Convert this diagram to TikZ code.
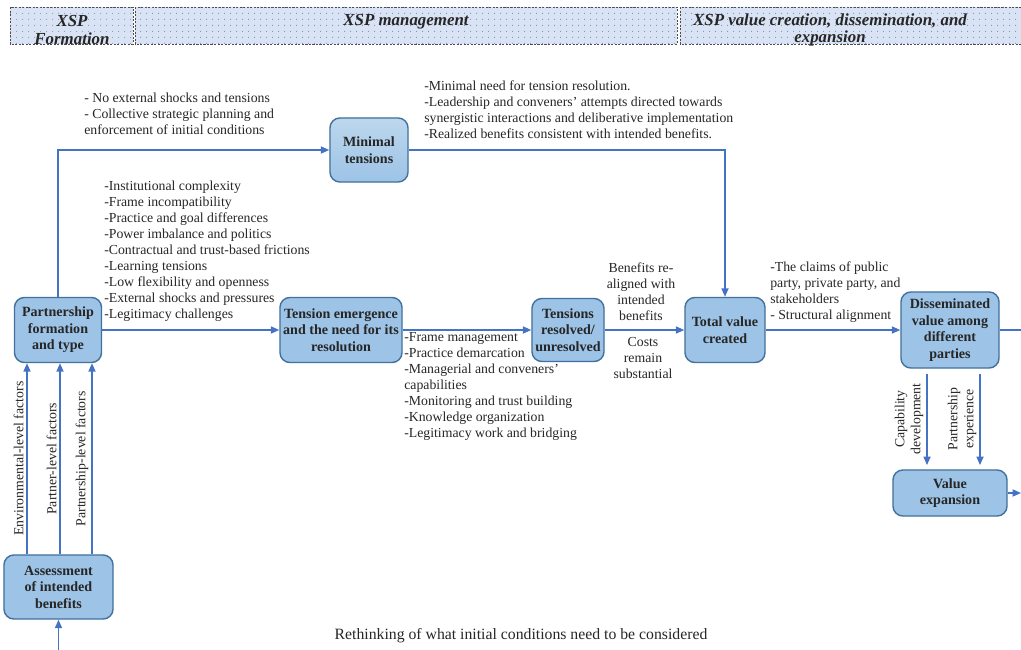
\documentclass[tikz,border=0pt]{standalone}
\usepackage{fontspec}
\setmainfont{Liberation Serif}
\usetikzlibrary{arrows.meta,patterns.meta}
\definecolor{boxfill}{HTML}{9DC3E6}
\definecolor{boxtop}{HTML}{BDD7EE}
\definecolor{boxline}{HTML}{41719C}
\definecolor{arr}{HTML}{4472C4}
\definecolor{hdrfill}{HTML}{DAE3F3}
\definecolor{txt}{HTML}{262626}
\tikzset{
blk/.style={draw=boxline,fill=boxfill,line width=1pt,rounded corners=7pt,align=center,font=\fontsize{10}{11.7}\selectfont\bfseries,inner sep=1pt},
lst/.style={align=left,inner sep=0pt,anchor=north west},
ctr/.style={align=center,inner sep=0pt},
lnk/.style={draw=arr,line width=1.1pt,-{Triangle[length=6pt,width=5pt]}},
vlbl/.style={midway,rotate=90,anchor=south,align=center,inner sep=2pt},
hdr/.style={draw=black!70,dash pattern=on 1.5pt off 1pt,fill=hdrfill,postaction={pattern={Dots[distance=4pt,radius=0.35pt]},pattern color=arr}},
hdrtxt/.style={font=\fontsize{12}{12.2}\selectfont\bfseries\itshape,align=center,inner sep=0pt}
}
\begin{document}
\begin{tikzpicture}[x=0.025cm,y=-0.025cm,font=\fontsize{9.8}{11.4}\selectfont,color=txt]
\useasboundingbox (0,0) rectangle (1021,650);
\draw[hdr] (10,7) rectangle (133,44);\draw[hdr] (135,7) rectangle (677,44);\draw[hdr] (680,7) rectangle (1021,44);
\node[hdrtxt] (h1) at (72,30) {XSP\\Formation};
\node[hdrtxt] (h2) at (406,22) {XSP management};
\node[hdrtxt] (h3) at (830,30) {XSP value creation, dissemination, and\\expansion};
\node[blk,minimum width=2.175cm,minimum height=1.625cm] (pf) at (58,330) {Partnership\\formation\\and type};
\node[blk,minimum width=2.725cm,minimum height=1.6cm] (ab) at (58.5,587) {Assessment\\of intended\\benefits};
\node[blk,top color=boxtop,bottom color=boxfill,minimum width=1.95cm,minimum height=1.6cm] (mt) at (369,150) {Minimal\\tensions};
\node[blk,minimum width=3.05cm,minimum height=1.625cm] (te) at (341,330) {Tension emergence\\and the need for its\\resolution};
\node[blk,minimum width=1.8cm,minimum height=1.575cm] (tr) at (568,330) {Tensions\\resolved/\\unresolved};
\node[blk,minimum width=2cm,minimum height=1.625cm] (tv) at (725,330) {Total value\\created};
\node[blk,minimum width=2.45cm,minimum height=1.9cm] (dv) at (950,330) {Disseminated\\value among\\different\\parties};
\node[blk,minimum width=2.85cm,minimum height=1.15cm] (ve) at (950,493) {Value\\expansion};
\node[lst] (nx) at (84,92.5) {- No external shocks and tensions\\- Collective strategic planning and\\enforcement of initial conditions};
\node[lst] (tl) at (104,180.5) {-Institutional complexity\\-Frame incompatibility\\-Practice and goal differences\\-Power imbalance and politics\\-Contractual and trust-based frictions\\-Learning tensions\\-Low flexibility and openness\\-External shocks and pressures\\-Legitimacy challenges};
\node[lst] (ml) at (424,80.5) {-Minimal need for tension resolution.\\-Leadership and conveners' attempts directed towards\\synergistic interactions and deliberative implementation\\-Realized benefits consistent with intended benefits.};
\node[lst] (rl) at (404,332.5) {-Frame management\\-Practice demarcation\\-Managerial and conveners'\\capabilities\\-Monitoring and trust building\\-Knowledge organization\\-Legitimacy work and bridging};
\node[ctr] (ba) at (641,292) {Benefits re-\\aligned with\\intended\\benefits};
\node[ctr] (cr) at (643,358) {Costs\\remain\\substantial};
\node[lst] (cl) at (770,261.5) {-The claims of public\\party, private party, and\\stakeholders\\- Structural alignment};
\node[font=\fontsize{11.2}{12}\selectfont] (rt) at (521,636) {Rethinking of what initial conditions need to be considered};
\coordinate (f1) at (27,0);\coordinate (f2) at (60,0);\coordinate (f3) at (92,0);
\coordinate (g1) at (927,0);\coordinate (g2) at (980,0);
\coordinate (abin) at (58.5,650);\coordinate (dvout) at (1021,330);\coordinate (veout) at (1021,493);
\draw[lnk] (pf.east)--(te.west);\draw[lnk] (te.east)--(tr.west);\draw[lnk] (tr.east)--(tv.west);\draw[lnk] (tv.east)--(dv.west);
\draw[lnk] (pf.north) |- (mt.west);\draw[lnk] (mt.east) -| (tv.north);
\draw[lnk,-] (dv.east)--(dvout);\draw[lnk] (ve.east)--(veout);\draw[lnk] (abin)--(ab.south);
\draw[lnk] (ab.north -| f1)--node[vlbl]{Environmental-level factors}(pf.south -| f1);
\draw[lnk] (ab.north -| f2)--node[vlbl]{Partner-level factors}(pf.south -| f2);
\draw[lnk] (ab.north -| f3)--node[vlbl]{Partnership-level factors}(pf.south -| f3);
\draw[lnk,shorten <=3.5pt,shorten >=3pt] (dv.south -| g1)--node[vlbl]{Capability\\development}(ve.north -| g1);
\draw[lnk,shorten <=3.5pt,shorten >=3pt] (dv.south -| g2)--node[vlbl]{Partnership\\experience}(ve.north -| g2);
\end{tikzpicture}
\end{document}
